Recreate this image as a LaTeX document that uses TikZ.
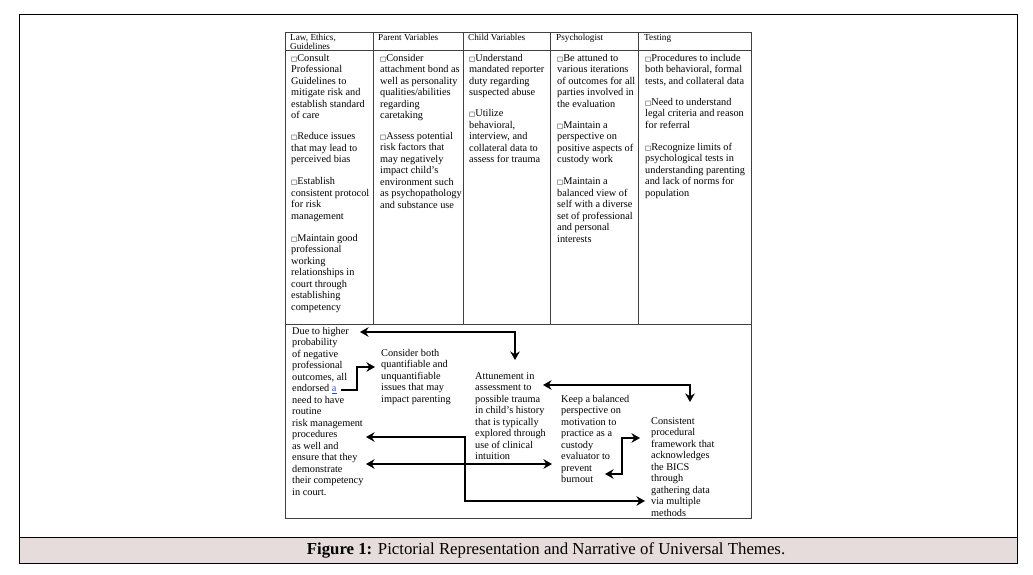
\documentclass[tikz,border=0pt]{standalone}
\usepackage{fontspec}
\setmainfont{Liberation Serif}
\newfontfamily\boxfont{DejaVu Sans}
\usetikzlibrary{arrows.meta}
\definecolor{captionpink}{HTML}{E7DCDC}
\definecolor{rulegrey}{HTML}{404040}
\definecolor{linkblue}{HTML}{3050C8}
\newcommand{\chk}{{\boxfont\fontsize{6.5}{6.5}\selectfont □}}

\begin{document}
\begin{tikzpicture}[x=1pt,y=-1pt,>={Stealth[length=8.5pt,width=9.5pt]}]
    \tikzstyle{cell}=[anchor=north west,inner sep=0pt,align=left,font=\fontsize{10.3}{11.5}\selectfont,execute at begin node=\strut]
    \tikzstyle{head}=[cell,font=\fontsize{9.2}{9}\selectfont]
    \tikzstyle{rule}=[draw=rulegrey,line width=0.9pt]
    \tikzstyle{link}=[line width=2.2pt,draw=black]

    \useasboundingbox (0,0) rectangle (1033,574);

    % Draw the outer frame and the caption bar
    \draw[line width=1pt] (19,537) -- (19,14) -- (1017,14) -- (1017,537);
    \draw[line width=1pt,fill=captionpink] (19,537) rectangle (1017,563);
    \node (caption) at (546,550) {\fontsize{16.8}{18}\selectfont\textbf{Figure 1:} Pictorial Representation and Narrative of Universal Themes.};

    % Draw the table
    \draw[rule] (285,32) rectangle (751,518);
    \draw[rule] (285,50) -- (751,50);
    \draw[rule] (285,324) -- (751,324);
    \foreach \x in {373,463,550,638}
        \draw[rule] (\x,32) -- (\x,324);

    % Column headers
    \foreach \name / \x / \txt in {law/290/{Law, Ethics,\\Guidelines}, parent/378/{Parent Variables}, child/468/{Child Variables}, psych/556/{Psychologist}, test/644/{Testing}}
        \node[head] (H-\name) at (\x,33.5) {\txt};

    % Column cells
    \node[cell] (law) at (291,54) {\chk Consult\\Professional\\Guidelines to\\mitigate risk and\\establish standard\\of care\\[9.5pt]
        \chk Reduce issues\\that may lead to\\perceived bias\\[10.5pt]
        \chk Establish\\consistent protocol\\for risk\\management\\[10.5pt]
        \chk Maintain good\\professional\\working\\relationships in\\court through\\establishing\\competency};
    \node[cell] (parent) at (380,54) {\chk Consider\\attachment bond as\\well as personality\\qualities/abilities\\regarding\\caretaking\\[9pt]
        \chk Assess potential\\risk factors that\\may negatively\\impact child's\\environment such\\as psychopathology\\and substance use};
    \node[cell] (child) at (469,54) {\chk Understand\\mandated reporter\\duty regarding\\suspected abuse\\[9.5pt]
        \chk Utilize\\behavioral,\\interview, and\\collateral data to\\assess for trauma};
    \node[cell] (psych) at (557,54) {\chk Be attuned to\\various iterations\\of outcomes for all\\parties involved in\\the evaluation\\[9.5pt]
        \chk Maintain a\\perspective on\\positive aspects of\\custody work\\[10.5pt]
        \chk Maintain a\\balanced view of\\self with a diverse\\set of professional\\and personal\\interests};
    \node[cell] (test) at (645,54) {\chk Procedures to include\\both behavioral, formal\\tests, and collateral data\\[9.5pt]
        \chk Need to understand\\legal criteria and reason\\for referral\\[10.5pt]
        \chk Recognize limits of\\psychological tests in\\understanding parenting\\and lack of norms for\\population};

    % Narrative in the lower row
    \node[cell] (risk) at (292,327) {Due to higher\\probability\\of negative\\professional\\outcomes, all\\endorsed \textcolor{linkblue}{\underline{a}}\\need to have\\routine\\risk management\\procedures\\as well and\\ensure that they\\demonstrate\\their competency\\in court.};
    \node[cell] (quant) at (381,349) {Consider both\\quantifiable and\\unquantifiable\\issues that may\\impact parenting};
    \node[cell] (trauma) at (475,372) {Attunement in\\assessment to\\possible trauma\\in child's history\\that is typically\\explored through\\use of clinical\\intuition};
    \node[cell] (burnout) at (561,395) {Keep a balanced\\perspective on\\motivation to\\practice as a\\custody\\evaluator to\\prevent\\burnout};
    \node[cell] (bics) at (651,417) {Consistent\\procedural\\framework that\\acknowledges\\the BICS\\through\\gathering data\\via multiple\\methods};

    % Arrow ends
    \coordinate (risk-top) at (360,332);
    \coordinate (trauma-top) at (515,360);
    \coordinate (risk-a) at (341,390);
    \coordinate (quant-in) at (375,367);
    \coordinate (trauma-right) at (543,385);
    \coordinate (burnout-top) at (690,402);
    \coordinate (burnout-end) at (605,474);
    \coordinate (bics-in) at (640,438);
    \coordinate (risk-proc) at (366,437);
    \coordinate (bics-low) at (645,501);
    \coordinate (risk-dem) at (366,464);
    \coordinate (burnout-in) at (552,464);

    % Connect the narratives
    \draw[link,<->] (risk-top) -| (trauma-top);
    \draw[link,->] (risk-a) -- ++(16,0) |- (quant-in);
    \draw[link,<->] (trauma-right) -| (burnout-top);
    \draw[link,<->] (burnout-end) -- ++(17,0) |- (bics-in);
    \draw[link,<->] (risk-proc) -- ++(99,0) |- (bics-low);
    \draw[link,<->] (risk-dem) -- (burnout-in);

\end{tikzpicture}
\end{document}
